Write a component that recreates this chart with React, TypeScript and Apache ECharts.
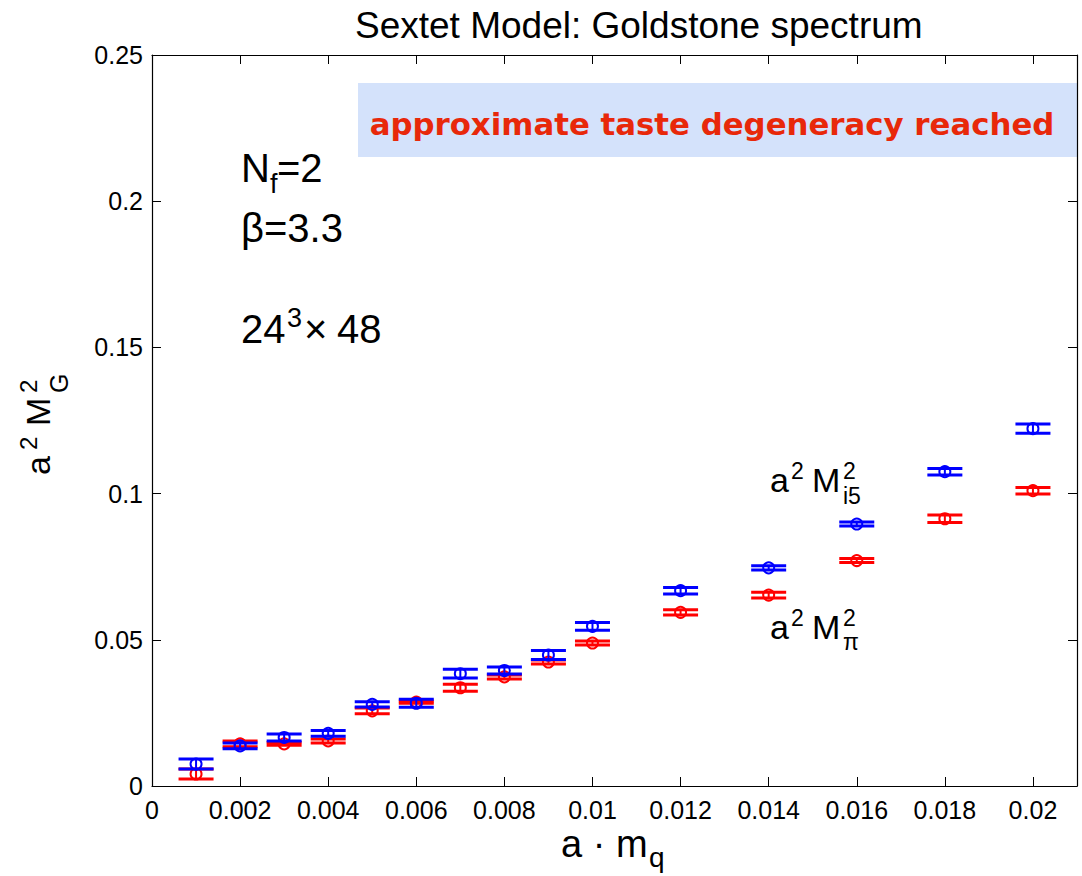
import React, { useEffect, useRef } from "react";
import * as echarts from "echarts";

// Quark mass a·m_q and squared Goldstone masses with their statistical errors
const quarkMass = [0.001, 0.002, 0.003, 0.004, 0.005, 0.006, 0.007, 0.008, 0.009, 0.01, 0.012, 0.014, 0.016, 0.018, 0.02];
const i5Mass2 = [0.0075, 0.0137, 0.0166, 0.018, 0.0279, 0.0283, 0.0384, 0.0395, 0.0448, 0.0546, 0.0668, 0.0746, 0.0896, 0.1075, 0.1222];
const i5Err = [0.0017, 0.001, 0.0012, 0.001, 0.0009, 0.0014, 0.0015, 0.0012, 0.0015, 0.0013, 0.0011, 0.0007, 0.0007, 0.0011, 0.0016];
const piMass2 = [0.0041, 0.0144, 0.0144, 0.0154, 0.0257, 0.0287, 0.0336, 0.0373, 0.0424, 0.0489, 0.0594, 0.0653, 0.0771, 0.0914, 0.101];
const piErr = [0.0017, 0.001, 0.0005, 0.0007, 0.001, 0.0004, 0.0012, 0.0007, 0.0007, 0.0007, 0.0009, 0.001, 0.0007, 0.0013, 0.0011];

// Axis ranges and tick steps
const xRange = [0, 0.021];
const xStep = 0.002;
const yRange = [0, 0.25];
const yStep = 0.05;

const SANS = '"Liberation Sans", Arial, Helvetica, sans-serif';
const BANNER = "approximate taste degeneracy reached";

function textWidth(text: string, font: string): number {
  const ctx = document.createElement("canvas").getContext("2d")!;
  ctx.font = font;
  return ctx.measureText(text).width;
}

// A text placed by its alphabetic baseline
function label(text: string, x: number, baseline: number, size: number, extra: any = {}) {
  return {
    type: "text",
    x,
    y: baseline - 0.347 * size,
    silent: true,
    style: {
      text,
      fontSize: size,
      fontFamily: SANS,
      fill: "#000",
      align: "left",
      verticalAlign: "middle",
      ...extra,
    },
  };
}

function errorSeries(name: string, values: number[], errs: number[], color: string) {
  return {
    type: "custom",
    name,
    xAxisIndex: 0,
    yAxisIndex: 0,
    encode: { x: 0, y: 1 },
    data: quarkMass.map((m, i) => [m, values[i], errs[i]]),
    renderItem: (_params: any, api: any) => {
      const x = api.value(0);
      const y = api.value(1);
      const e = api.value(2);
      const c = api.coord([x, y]);
      const hi = api.coord([x, y + e]);
      const lo = api.coord([x, y - e]);
      const hw = 17.5;
      return {
        type: "group",
        children: [
          { type: "line", shape: { x1: c[0], y1: hi[1], x2: c[0], y2: lo[1] }, style: { stroke: color, lineWidth: 2 } },
          { type: "line", shape: { x1: c[0] - hw, y1: hi[1], x2: c[0] + hw, y2: hi[1] }, style: { stroke: color, lineWidth: 3 } },
          { type: "line", shape: { x1: c[0] - hw, y1: lo[1], x2: c[0] + hw, y2: lo[1] }, style: { stroke: color, lineWidth: 3 } },
          { type: "circle", shape: { cx: c[0], cy: c[1], r: 5.5 }, style: { fill: "none", stroke: color, lineWidth: 2 } },
        ],
      };
    },
  };
}

export default function App() {
  const ref = useRef<HTMLDivElement>(null);

  useEffect(() => {
    document.body.style.margin = "0";
    const chart = echarts.init(ref.current!, undefined, { renderer: "svg" });

    const bannerFont = (s: number) => `bold ${s}px "DejaVu Sans", sans-serif`;
    const bannerSize = (30 * 685) / textWidth(BANNER, bannerFont(30));

    const axisCommon = {
      axisLine: { show: true, onZero: false, lineStyle: { color: "#000", width: 1.2 } },
      axisTick: { show: true, inside: true, length: 9, lineStyle: { color: "#000", width: 1 } },
      splitLine: { show: false },
    };

    const xFmt = (v: number) => (v === 0 ? "0" : String(+v.toFixed(3)));

    chart.setOption({
      animation: false,
      backgroundColor: "#fff",
      grid: { left: 152, right: 5, top: 55, bottom: 90, containLabel: false },
      xAxis: [
        {
          type: "value",
          position: "bottom",
          min: xRange[0],
          max: xRange[1],
          interval: xStep,
          ...axisCommon,
          axisLabel: {
            show: true,
            margin: 11,
            showMaxLabel: false,
            color: "#000",
            fontSize: 25,
            fontFamily: SANS,
            formatter: xFmt,
          },
        },
        {
          type: "value",
          position: "top",
          min: xRange[0],
          max: xRange[1],
          interval: xStep,
          ...axisCommon,
          axisLabel: { show: false },
        },
      ],
      yAxis: [
        {
          type: "value",
          position: "left",
          min: yRange[0],
          max: yRange[1],
          interval: yStep,
          ...axisCommon,
          axisLabel: { show: true, margin: 9, color: "#000", fontSize: 25, fontFamily: SANS },
        },
        {
          type: "value",
          position: "right",
          min: yRange[0],
          max: yRange[1],
          interval: yStep,
          ...axisCommon,
          axisLabel: { show: false },
        },
      ],
      series: [
        errorSeries("a² M²π", piMass2, piErr, "#ff0000"),
        errorSeries("a² M²i5", i5Mass2, i5Err, "#0000ff"),
      ],
      graphic: {
        elements: [
          label("Sextet Model: Goldstone spectrum", 355, 38, 37),
          {
            type: "rect",
            silent: true,
            shape: { x: 358, y: 83, width: 719, height: 74 },
            style: { fill: "#d4e2fb" },
          },
          {
            type: "text",
            silent: true,
            x: 712,
            y: 124,
            style: {
              text: BANNER,
              font: bannerFont(bannerSize),
              fill: "#e8280a",
              align: "center",
              verticalAlign: "middle",
            },
          },
          // N_f = 2
          label("N", 241, 182, 40),
          label("f", 270, 193, 27),
          label("=2", 277, 182, 40),
          // beta = 3.3
          label("β=3.3", 241, 242, 40),
          // lattice volume
          label("24", 241, 343, 40),
          label("3", 287, 327, 27),
          label("×", 304, 343, 40),
          label("48", 337, 343, 40),
          // series tags
          label("a", 770, 492, 34),
          label("2", 791, 479, 23),
          label("M", 812, 492, 34),
          label("2", 843, 479, 23),
          label("i5", 843, 504, 23),
          label("a", 770, 639, 34),
          label("2", 791, 626, 23),
          label("M", 812, 639, 34),
          label("2", 843, 626, 23),
          label("π", 843, 650, 23),
          // x axis title
          label("a · m", 561, 857, 38),
          label("q", 649, 867, 28),
          // y axis title, reading upwards
          {
            type: "group",
            x: 50,
            y: 475,
            rotation: Math.PI / 2,
            silent: true,
            children: [
              label("a", 0, 0, 34),
              label("2", 25, -13, 24),
              label("M", 49, 0, 34),
              label("2", 82, -13, 24),
              label("G", 82, 18, 25),
            ],
          },
        ],
      },
    });

    return () => chart.dispose();
  }, []);

  return <div ref={ref} style={{ width: 1082, height: 876 }} />;
}
